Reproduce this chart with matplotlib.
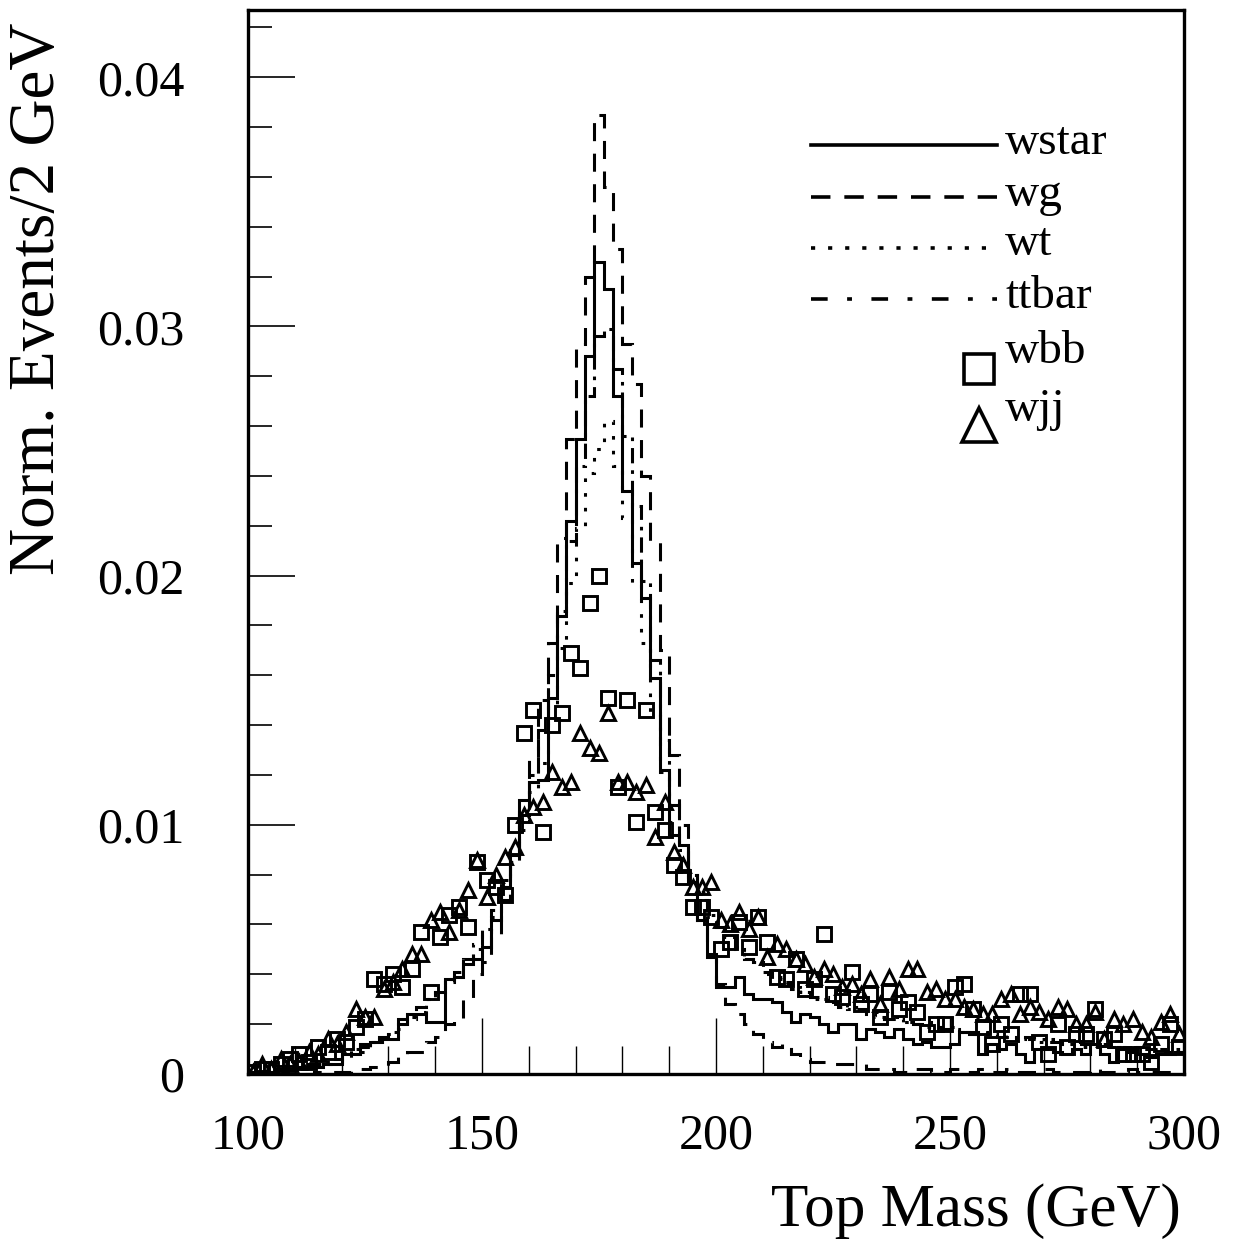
import numpy as np
import matplotlib
matplotlib.use("Agg")
import matplotlib.pyplot as plt
from matplotlib.lines import Line2D
from matplotlib.ticker import MultipleLocator, FixedLocator, FuncFormatter

plt.rcParams['font.family'] = ['Liberation Serif', 'DejaVu Serif']
plt.rcParams['lines.scale_dashes'] = False

# ---- data: 2 GeV bins from 100 to 300 GeV ----
bin_edges = list(range(100, 302, 2))

wstar = [0.0001, 0.0001, 0.0001, 0.0002, 0.0002, 0.0003, 0.0003, 0.0003, 0.0004, 0.0004,
         0.0008, 0.0008, 0.0012, 0.0013, 0.0014, 0.0014, 0.0022, 0.0024, 0.0024, 0.0021,
         0.0021, 0.0038, 0.0039, 0.0044, 0.0046, 0.0051, 0.0062, 0.0075, 0.0088, 0.0110,
         0.0117, 0.0118, 0.0151, 0.0184, 0.0222, 0.0255, 0.0288, 0.0326, 0.0315, 0.0272,
         0.0234, 0.0205, 0.0191, 0.0159, 0.0122, 0.0096, 0.0092, 0.0077, 0.0062, 0.0047,
         0.0035, 0.0035, 0.0039, 0.0032, 0.0030, 0.0030, 0.0029, 0.0025, 0.0021, 0.0024,
         0.0023, 0.0020, 0.0017, 0.0020, 0.0020, 0.0014, 0.0018, 0.0017, 0.0015, 0.0018,
         0.0014, 0.0012, 0.0013, 0.0011, 0.0011, 0.0012, 0.0017, 0.0016, 0.0008, 0.0012,
         0.0010, 0.0012, 0.0008, 0.0005, 0.0010, 0.0010, 0.0009, 0.0008, 0.0010, 0.0008,
         0.0012, 0.0008, 0.0005, 0.0010, 0.0009, 0.0008, 0.0007, 0.0008, 0.0008, 0.0009]

wg = [0.0000, 0.0000, 0.0000, 0.0000, 0.0000, 0.0001, 0.0000, 0.0001, 0.0001, 0.0001,
      0.0001, 0.0002, 0.0002, 0.0003, 0.0003, 0.0005, 0.0007, 0.0009, 0.0009, 0.0013,
      0.0015, 0.0020, 0.0022, 0.0030, 0.0040, 0.0045, 0.0055, 0.0070, 0.0085, 0.0105,
      0.0126, 0.0150, 0.0173, 0.0215, 0.0255, 0.0293, 0.0320, 0.0385, 0.0356, 0.0331,
      0.0293, 0.0277, 0.0240, 0.0214, 0.0170, 0.0128, 0.0100, 0.0080, 0.0062, 0.0048,
      0.0036, 0.0028, 0.0024, 0.0020, 0.0016, 0.0013, 0.0011, 0.0012, 0.0008, 0.0006,
      0.0005, 0.0005, 0.0004, 0.0004, 0.0004, 0.0004, 0.0002, 0.0002, 0.0002, 0.0001,
      0.0001, 0.0002, 0.0002, 0.0001, 0.0001, 0.0002, 0.0001, 0.0001, 0.0002, 0.0001,
      0.0001, 0.0002, 0.0001, 0.0001, 0.0001, 0.0002, 0.0001, 0.0001, 0.0001, 0.0001,
      0.0002, 0.0001, 0.0001, 0.0001, 0.0002, 0.0001, 0.0001, 0.0001, 0.0001, 0.0001]

wt = [0.0001, 0.0001, 0.0002, 0.0002, 0.0002, 0.0003, 0.0003, 0.0004, 0.0004, 0.0005,
      0.0006, 0.0008, 0.0009, 0.0012, 0.0013, 0.0016, 0.0018, 0.0022, 0.0025, 0.0030,
      0.0033, 0.0038, 0.0041, 0.0047, 0.0050, 0.0057, 0.0063, 0.0075, 0.0085, 0.0098,
      0.0113, 0.0125, 0.0148, 0.0171, 0.0197, 0.0219, 0.0241, 0.0251, 0.0262, 0.0244,
      0.0223, 0.0197, 0.0173, 0.0145, 0.0121, 0.0101, 0.0091, 0.0079, 0.0073, 0.0063,
      0.0058, 0.0053, 0.0051, 0.0046, 0.0045, 0.0040, 0.0039, 0.0036, 0.0035, 0.0033,
      0.0030, 0.0031, 0.0028, 0.0029, 0.0026, 0.0027, 0.0024, 0.0025, 0.0022, 0.0023,
      0.0021, 0.0020, 0.0021, 0.0019, 0.0018, 0.0019, 0.0017, 0.0016, 0.0017, 0.0015,
      0.0016, 0.0014, 0.0015, 0.0014, 0.0013, 0.0014, 0.0012, 0.0013, 0.0012, 0.0011,
      0.0012, 0.0011, 0.0010, 0.0011, 0.0010, 0.0010, 0.0009, 0.0010, 0.0009, 0.0009]

ttbar = [0.0001, 0.0001, 0.0001, 0.0002, 0.0002, 0.0003, 0.0004, 0.0004, 0.0005, 0.0006,
         0.0008, 0.0010, 0.0011, 0.0013, 0.0015, 0.0017, 0.0020, 0.0023, 0.0027, 0.0030,
         0.0033, 0.0037, 0.0041, 0.0046, 0.0052, 0.0058, 0.0066, 0.0078, 0.0090, 0.0104,
         0.0120, 0.0138, 0.0160, 0.0186, 0.0214, 0.0244, 0.0272, 0.0296, 0.0299, 0.0283,
         0.0256, 0.0228, 0.0198, 0.0166, 0.0134, 0.0108, 0.0090, 0.0080, 0.0070, 0.0064,
         0.0059, 0.0055, 0.0050, 0.0046, 0.0045, 0.0041, 0.0038, 0.0037, 0.0034, 0.0033,
         0.0031, 0.0030, 0.0029, 0.0027, 0.0026, 0.0026, 0.0024, 0.0023, 0.0022, 0.0022,
         0.0021, 0.0020, 0.0019, 0.0019, 0.0018, 0.0018, 0.0017, 0.0017, 0.0016, 0.0016,
         0.0015, 0.0015, 0.0014, 0.0015, 0.0014, 0.0013, 0.0013, 0.0012, 0.0013, 0.0012,
         0.0011, 0.0012, 0.0011, 0.0011, 0.0010, 0.0011, 0.0010, 0.0010, 0.0009, 0.0010]

wbb = [0.0001, 0.0002, 0.0002, 0.0004, 0.0006, 0.0008, 0.0005, 0.0011, 0.0009, 0.0014,
       0.0013, 0.0019, 0.0022, 0.0038, 0.0036, 0.0040, 0.0035, 0.0042, 0.0057, 0.0033,
       0.0055, 0.0064, 0.0067, 0.0059, 0.0085, 0.0078, 0.0075, 0.0072, 0.0100, 0.0137,
       0.0146, 0.0097, 0.0140, 0.0145, 0.0169, 0.0163, 0.0189, 0.0200, 0.0151, 0.0115,
       0.0150, 0.0101, 0.0146, 0.0105, 0.0098, 0.0084, 0.0079, 0.0067, 0.0067, 0.0063,
       0.0050, 0.0053, 0.0061, 0.0051, 0.0063, 0.0053, 0.0039, 0.0038, 0.0046, 0.0034,
       0.0038, 0.0056, 0.0032, 0.0031, 0.0041, 0.0028, 0.0032, 0.0023, 0.0033, 0.0026,
       0.0029, 0.0025, 0.0017, 0.0020, 0.0020, 0.0035, 0.0036, 0.0026, 0.0019, 0.0012,
       0.0020, 0.0016, 0.0032, 0.0032, 0.0013, 0.0008, 0.0020, 0.0011, 0.0016, 0.0016,
       0.0026, 0.0014, 0.0016, 0.0008, 0.0008, 0.0008, 0.0005, 0.0012, 0.0020, 0.0011]

wjj = [0.0001, 0.0004, 0.0002, 0.0006, 0.0004, 0.0005, 0.0009, 0.0008, 0.0014, 0.0012,
       0.0017, 0.0026, 0.0023, 0.0023, 0.0034, 0.0037, 0.0042, 0.0048, 0.0048, 0.0062,
       0.0065, 0.0057, 0.0066, 0.0074, 0.0086, 0.0071, 0.0080, 0.0087, 0.0091, 0.0104,
       0.0107, 0.0109, 0.0121, 0.0115, 0.0117, 0.0137, 0.0131, 0.0129, 0.0145, 0.0117,
       0.0117, 0.0113, 0.0116, 0.0095, 0.0109, 0.0089, 0.0084, 0.0075, 0.0075, 0.0077,
       0.0062, 0.0060, 0.0065, 0.0058, 0.0063, 0.0047, 0.0052, 0.0050, 0.0046, 0.0044,
       0.0039, 0.0042, 0.0040, 0.0035, 0.0036, 0.0032, 0.0038, 0.0028, 0.0039, 0.0034,
       0.0042, 0.0042, 0.0033, 0.0034, 0.0030, 0.0030, 0.0027, 0.0026, 0.0024, 0.0024,
       0.0030, 0.0032, 0.0024, 0.0027, 0.0025, 0.0022, 0.0027, 0.0026, 0.0020, 0.0020,
       0.0025, 0.0014, 0.0022, 0.0020, 0.0022, 0.0017, 0.0015, 0.0021, 0.0024, 0.0016]

legend_labels = ["wstar", "wg", "wt", "ttbar", "wbb", "wjj"]
x_ticks = [100, 150, 200, 250, 300]
y_ticks = [0, 0.01, 0.02, 0.03, 0.04]
y_tick_labels = ["0", "0.01", "0.02", "0.03", "0.04"]

# ---- figure ----
W, H = 1233, 1247
fig = plt.figure(figsize=(W / 100, H / 100), dpi=100)
ax = fig.add_axes([248 / W, 1 - 1074 / H, (1184 - 248) / W, (1074 - 10) / H])

edges = np.array(bin_edges, dtype=float)
centers = 0.5 * (edges[:-1] + edges[1:])

LW = 2.2
ax.stairs(wstar, edges, baseline=None, color='black', lw=LW, linestyle='-')
ax.stairs(wg, edges, baseline=None, color='black', lw=LW, linestyle=(0, (13, 9)))
ax.stairs(wt, edges, baseline=None, color='black', lw=LW, linestyle=(0, (2.6, 8)))
ax.stairs(ttbar, edges, baseline=None, color='black', lw=LW, linestyle=(0, (11, 5, 2.6, 5)))

ax.plot(centers, wbb, linestyle='none', marker='s', markersize=9.5, markerfacecolor='none',
        markeredgecolor='black', markeredgewidth=2.1)
ax.plot(centers, wjj, linestyle='none', marker='^', markersize=10.5, markerfacecolor='none',
        markeredgecolor='black', markeredgewidth=2.1)

ax.set_xlim(100, 300)
ax.set_ylim(0, 0.0427)

for s in ax.spines.values():
    s.set_linewidth(2.4)

ax.xaxis.set_major_locator(FixedLocator(x_ticks))
ax.xaxis.set_minor_locator(MultipleLocator(10))
ax.yaxis.set_major_locator(FixedLocator(y_ticks))
ax.yaxis.set_minor_locator(MultipleLocator(0.002))
ax.yaxis.set_major_formatter(FuncFormatter(lambda v, p: y_tick_labels[y_ticks.index(round(v, 3))] if round(v, 3) in y_ticks else ""))

ax.tick_params(axis='both', which='both', direction='in', top=False, right=False)
ax.tick_params(axis='x', which='major', length=40, width=1.0, pad=28, labelsize=36)
ax.tick_params(axis='x', which='minor', length=20, width=1.0)
ax.tick_params(axis='y', which='major', length=34, width=1.2, pad=46, labelsize=36)
ax.tick_params(axis='y', which='minor', length=17, width=1.2)

fig.text(38 / W, 1 - 299 / H, "Norm. Events/2 GeV", rotation=90, ha='center', va='center', fontsize=47)
fig.text(1181 / W, 1 - 1211 / H, "Top Mass (GeV)", ha='right', va='center', fontsize=44)

# ---- legend (manual, ROOT style) ----
def fx(px):
    return (px - 248) / (1184 - 248)

def fy(py):
    return (1074 - py) / (1074 - 10)

line_styles = ['-', (0, (14, 10)), (0, (3, 9.3)), (0, (12, 14, 3.5, 14))]
rows_y = [145, 197, 248, 299]
for lab, ls, yy in zip(legend_labels[:4], line_styles, rows_y):
    ax.add_line(Line2D([fx(811), fx(997)], [fy(yy), fy(yy)], transform=ax.transAxes,
                       color='black', lw=2.6, linestyle=ls, clip_on=False))
for lab, yy in zip(legend_labels, [143, 195, 244, 297, 352, 410]):
    ax.text(fx(1005), fy(yy), lab, transform=ax.transAxes, ha='left', va='center', fontsize=34)
ax.add_line(Line2D([fx(979)], [fy(369)], transform=ax.transAxes, marker='s', markersize=21,
                   markerfacecolor='none', markeredgecolor='black', markeredgewidth=2.6, linestyle='none'))
ax.add_line(Line2D([fx(979)], [fy(425)], transform=ax.transAxes, marker='^', markersize=24,
                   markerfacecolor='none', markeredgecolor='black', markeredgewidth=2.6, linestyle='none'))

fig.savefig("out.png", dpi=100)
